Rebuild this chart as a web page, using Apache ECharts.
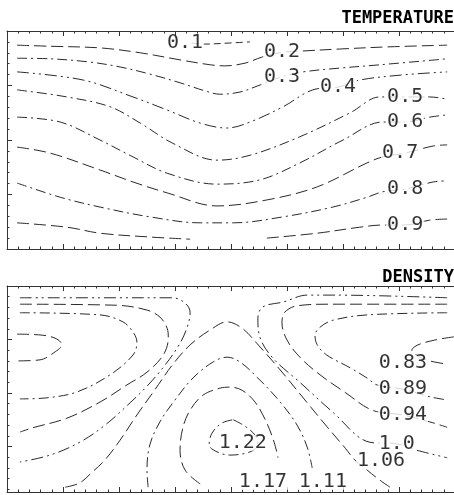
<!DOCTYPE html>
<html>
<head>
<meta charset="utf-8">
<script src="https://cdn.jsdelivr.net/npm/echarts@6/dist/echarts.min.js"></script>
<style>
html,body{margin:0;padding:0;background:#fff;}
#chart{width:454px;height:495px;}
</style>
</head>
<body>
<div id="chart"></div>
<script>
// ---------- TEMPERATURE contours (x: 0..8, y: depth 0..4 from top) ----------
const t01x = [3.30, 3.54, 3.98, 4.34];
const t01y = [0.22, 0.24, 0.22, 0.20];
const t02x = [0.18,0.77,1.66,2.38,3.09,3.63,3.89,4.25,4.55,4.91,5.23,5.95,6.84,7.86];
const t02y = [0.26,0.28,0.31,0.40,0.53,0.62,0.64,0.59,0.48,0.39,0.37,0.33,0.29,0.26];
const t03x = [0.18,0.77,1.48,2.02,2.55,3.09,3.54,3.80,4.16,4.52,4.91,5.29,5.95,6.66,7.86];
const t03y = [0.50,0.51,0.57,0.66,0.79,0.95,1.10,1.16,1.12,0.99,0.84,0.75,0.68,0.62,0.51];
const t04x = [0.18,1.36,2.25,2.86,3.45,3.93,4.34,4.93,5.46,5.91,6.30,7.02,7.86];
const t04y = [0.75,0.90,1.21,1.45,1.69,1.78,1.67,1.39,1.08,1.03,0.90,0.81,0.75];
const t05x = [0.18,1.07,1.84,2.38,2.96,3.75,4.34,5.23,6.13,6.66,7.11,7.55,7.86];
const t05y = [1.08,1.21,1.39,1.69,2.06,2.37,2.28,1.94,1.50,1.21,1.21,1.21,1.25];
const t06x = [0.18,0.95,1.66,2.25,2.86,3.75,4.52,5.23,6.00,6.71,7.11,7.55,7.86];
const t06y = [1.58,1.67,2.00,2.31,2.61,2.81,2.73,2.42,2.00,1.67,1.67,1.58,1.54];
const t07x = [0.18,0.77,1.66,2.25,2.86,3.75,4.64,5.54,6.43,6.71,7.11,7.61,7.86];
const t07y = [2.13,2.24,2.55,2.77,2.97,3.21,3.10,2.86,2.42,2.31,2.24,2.11,2.09];
const t08x = [0.18,0.95,1.66,2.55,3.45,4.04,4.93,5.82,6.43,6.71,7.11,7.61,7.86];
const t08y = [2.79,3.05,3.23,3.41,3.52,3.52,3.41,3.23,3.05,2.95,2.90,2.77,2.75];
const t09x = [0.18,1.07,1.66,2.55,3.27,3.90,4.64,5.54,6.30,6.71,7.11,7.55,7.86];
const t09y = [3.52,3.60,3.71,3.78,3.82,null,3.80,3.71,3.60,3.56,3.56,3.47,3.45];

const tempLabelText = ['0.1','0.2','0.3','0.4','0.5','0.6','0.7','0.8','0.9'];
const tempLabelX = [3.18, 4.91, 4.91, 5.91, 7.11, 7.11, 7.02, 7.11, 7.11];
const tempLabelY = [0.22, 0.39, 0.84, 1.03, 1.21, 1.67, 2.24, 2.90, 3.56];

// ---------- DENSITY contours (x: 0..8, y: depth 0..3.85 from top) ----------
const d083Lx = [0.18,0.64,0.89,0.98,0.86,0.59,0.18];
const d083Ly = [0.90,0.92,0.99,1.10,1.23,1.38,1.40];
const d083Rx = [7.98,7.64,7.34,7.23,7.34,7.55,7.86];
const d083Ry = [0.95,1.01,1.10,1.20,1.31,1.40,1.46];
const d089Lx = [0.23,1.66,2.07,2.25,2.32,2.25,1.84,1.25,0.71,0.23];
const d089Ly = [0.50,0.54,0.67,0.86,1.05,1.29,1.66,1.98,2.09,2.11];
const d089Rx = [7.86,6.43,5.82,5.59,5.50,5.54,5.71,6.13,6.43,6.61,7.07,7.55,7.86];
const d089Ry = [0.50,0.54,0.64,0.77,0.92,1.10,1.29,1.53,1.72,1.85,1.93,2.07,2.13];
const d094Lx = [0.23,1.96,2.50,2.73,2.86,2.88,2.79,2.50,2.14,1.66,1.07,0.46,0.23];
const d094Ly = [0.34,0.36,0.45,0.58,0.79,0.97,1.29,1.61,1.85,2.17,2.47,2.65,2.73];
const d094Rx = [7.86,5.77,5.18,4.96,4.91,5.00,5.23,5.59,6.04,6.52,7.07,7.55,7.86];
const d094Ry = [0.34,0.34,0.37,0.49,0.69,1.01,1.33,1.66,1.99,2.32,2.41,2.54,2.64];
const d100Lx = [0.23,1.66,2.96,3.18,3.27,3.23,3.09,2.82,2.52,2.16,1.75,1.30,0.77,0.23];
const d100Ly = [0.22,0.22,0.22,0.32,0.49,0.73,1.07,1.48,1.85,2.22,2.60,2.92,3.16,3.29];
const d100Rx = [7.86,5.82,5.36,4.93,4.57,4.48,4.52,4.75,5.23,5.82,6.48,6.96,7.32,7.86];
const d100Ry = [0.22,0.17,0.17,0.30,0.39,0.60,0.97,1.35,1.80,2.36,2.92,2.95,3.07,3.21];
const d106x = [1.04,1.30,1.52,1.75,2.02,2.32,2.64,2.95,3.27,3.63,3.93,4.20,4.46,4.88,5.32,5.73,6.04,6.21,6.43,6.66,6.84];
const d106y = [3.76,3.68,3.48,3.25,2.88,2.41,1.94,1.48,1.10,0.82,0.67,0.79,1.07,1.57,2.13,2.65,3.03,3.25,3.44,3.63,3.76];
const d111x = [2.52,2.50,2.55,2.73,3.00,3.32,3.68,3.93,4.16,4.48,4.88,5.18,5.36,5.45];
const d111y = [3.76,3.44,2.97,2.54,2.13,1.72,1.42,1.33,1.42,1.72,2.17,2.60,3.01,3.40];
const d117x = [3.45,3.18,3.09,3.14,3.27,3.50,3.80,3.98,4.20,4.43,4.63,4.77,4.84];
const d117y = [3.70,3.44,3.07,2.65,2.32,2.04,1.91,1.89,1.95,2.17,2.54,2.92,3.21];
const d122x = [4.04,4.25,4.43,4.48,4.34,3.98,3.75,3.61,3.66,3.84,4.04];
const d122y = [2.50,2.62,2.79,2.97,3.10,3.16,3.10,2.97,2.75,2.56,2.50];

const densLabelText = ['0.83','0.89','0.94','1.0','1.06','1.22','1.17','1.11'];
const densLabelX = [7.07, 7.07, 7.07, 6.96, 6.68, 4.21, 4.57, 5.64];
const densLabelY = [1.44, 1.93, 2.41, 2.95, 3.27, 2.93, 3.66, 3.66];

// ---------- styles ----------
const LINE = '#2a2a2a';
const dashA = [12, 5];
const dashB = [10, 4, 2, 4];
const dashC = [7, 4];
const dashD = [12, 4, 2, 4, 2, 4];
const MONO = '"DejaVu Sans Mono", "Liberation Mono", monospace';

function pairs(xs, ys) {
  return xs.map((x, i) => (ys[i] === null ? '-' : [x, ys[i]]));
}
function contour(panel, xs, ys, dash) {
  return {
    type: 'line',
    xAxisIndex: panel * 2,
    yAxisIndex: panel,
    data: pairs(xs, ys),
    smooth: 0.35,
    symbol: 'none',
    silent: true,
    connectNulls: false,
    lineStyle: { color: LINE, width: 1, type: dash },
    z: 2
  };
}
function labels(panel, xs, ys, txt) {
  return {
    type: 'scatter',
    xAxisIndex: panel * 2,
    yAxisIndex: panel,
    symbolSize: 0,
    silent: true,
    data: xs.map((x, i) => ({ value: [x, ys[i]], name: txt[i] })),
    label: {
      show: true,
      position: 'inside',
      formatter: p => p.name,
      fontFamily: MONO,
      fontSize: 20,
      color: '#000',
      backgroundColor: '#fff',
      lineHeight: 16,
      padding: [0, 1]
    },
    z: 5
  };
}

const axisBase = {
  type: 'value',
  min: 0,
  interval: 1,
  axisLine: { show: true, onZero: false, lineStyle: { color: '#333', width: 1 } },
  axisTick: { show: true, inside: true, length: 5, lineStyle: { color: '#333', width: 1 } },
  minorTick: { show: true, splitNumber: 5, length: 2.5, lineStyle: { color: '#333', width: 1 } },
  axisLabel: { show: false },
  splitLine: { show: false },
  minorSplitLine: { show: false }
};
function xAx(grid, pos) { return Object.assign({}, axisBase, { gridIndex: grid, position: pos, max: 8 }); }
function yAx(grid, max) { return Object.assign({}, axisBase, { gridIndex: grid, position: 'left', max: max, inverse: true }); }

const chart = echarts.init(document.getElementById('chart'), null, { renderer: 'canvas' });
chart.setOption({
  animation: false,
  backgroundColor: '#fff',
  grid: [
    { left: 7, top: 31, width: 448, height: 218, outerBoundsMode: 'none' },
    { left: 7, top: 286, width: 448, height: 206, outerBoundsMode: 'none' }
  ],
  xAxis: [xAx(0, 'bottom'), xAx(0, 'top'), xAx(1, 'bottom'), xAx(1, 'top')],
  yAxis: [yAx(0, 4), yAx(1, 3.85)],
  graphic: [
    { type: 'text', x: 454, y: 19, style: { text: 'TEMPERATURE', font: 'bold 17px ' + MONO, fill: '#000', align: 'right', verticalAlign: 'middle' } },
    { type: 'text', x: 454, y: 278, style: { text: 'DENSITY', font: 'bold 17px ' + MONO, fill: '#000', align: 'right', verticalAlign: 'middle' } }
  ],
  series: [
    contour(0, t01x, t01y, dashC),
    contour(0, t02x, t02y, dashA),
    contour(0, t03x, t03y, dashB),
    contour(0, t04x, t04y, dashD),
    contour(0, t05x, t05y, dashB),
    contour(0, t06x, t06y, dashB),
    contour(0, t07x, t07y, dashA),
    contour(0, t08x, t08y, dashB),
    contour(0, t09x, t09y, dashA),
    labels(0, tempLabelX, tempLabelY, tempLabelText),
    contour(1, d083Lx, d083Ly, dashA),
    contour(1, d083Rx, d083Ry, dashA),
    contour(1, d089Lx, d089Ly, dashB),
    contour(1, d089Rx, d089Ry, dashB),
    contour(1, d094Lx, d094Ly, dashA),
    contour(1, d094Rx, d094Ry, dashA),
    contour(1, d100Lx, d100Ly, dashD),
    contour(1, d100Rx, d100Ry, dashD),
    contour(1, d106x, d106y, dashA),
    contour(1, d111x, d111y, dashB),
    contour(1, d117x, d117y, dashA),
    contour(1, d122x, d122y, dashB),
    labels(1, densLabelX, densLabelY, densLabelText)
  ]
});
</script>
</body>
</html>
